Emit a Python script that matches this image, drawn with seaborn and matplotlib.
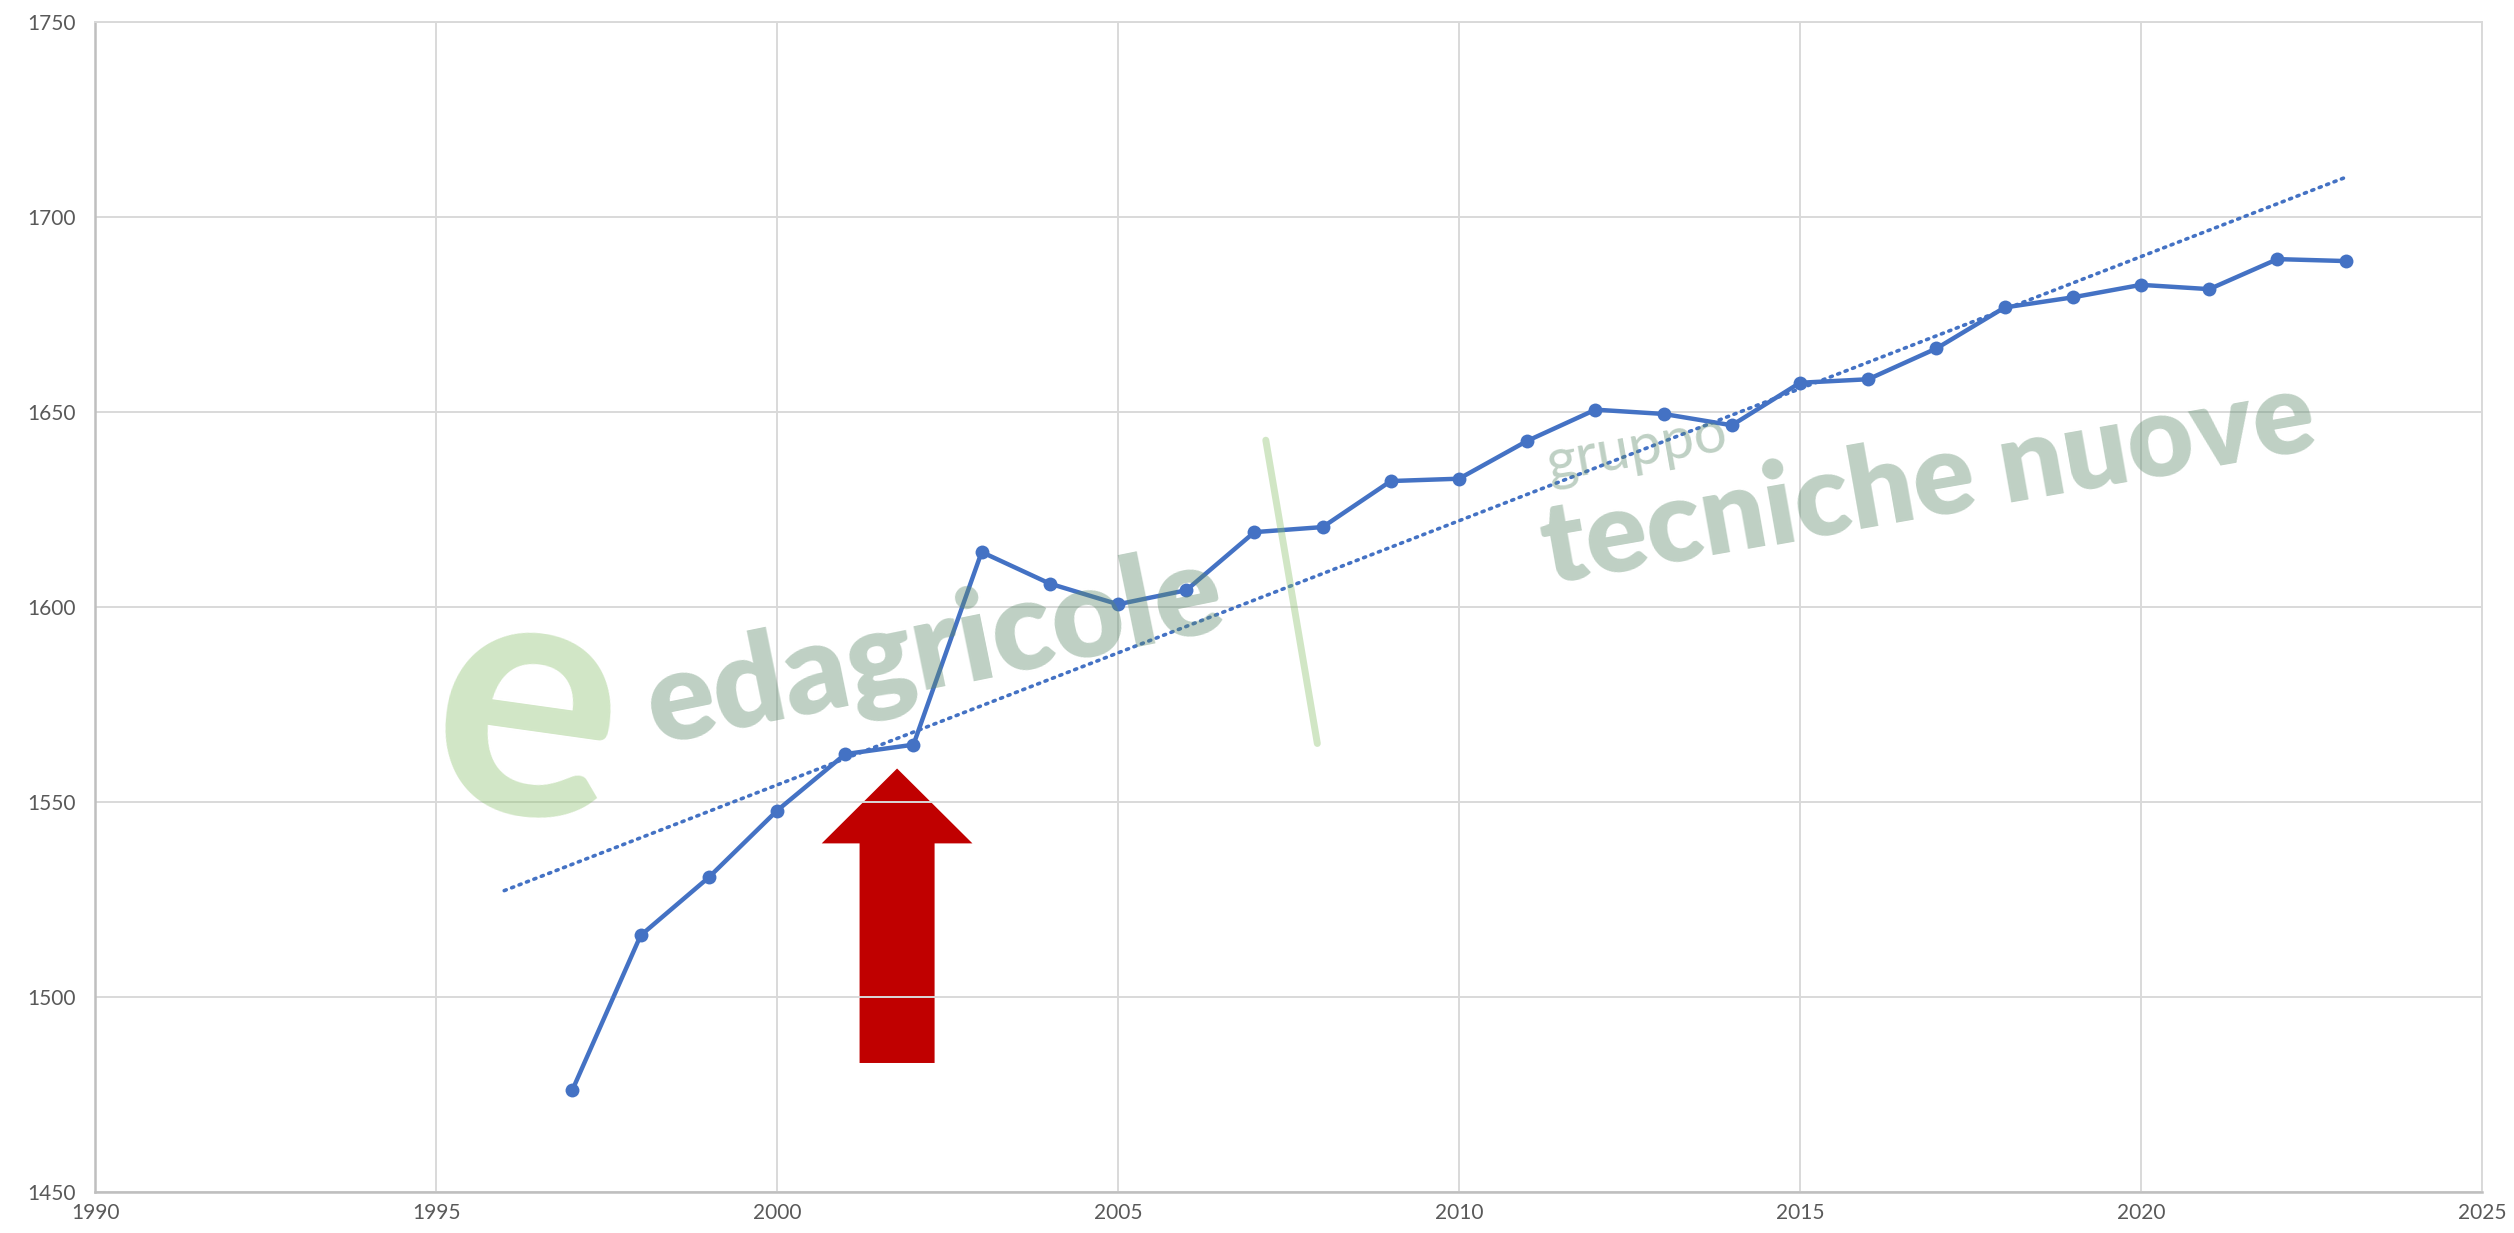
import numpy as np
import pandas as pd
import seaborn as sns
import matplotlib
matplotlib.use("Agg")
import matplotlib.pyplot as plt
from matplotlib.patches import FancyArrow
from matplotlib.lines import Line2D

# values
years = [1997, 1998, 1999, 2000, 2001, 2002, 2003, 2004, 2005, 2006,
         2007, 2008, 2009, 2010, 2011, 2012, 2013, 2014, 2015, 2016,
         2017, 2018, 2019, 2020, 2021, 2022, 2023]
values = [1476.1, 1515.7, 1530.6, 1547.7, 1562.2, 1564.6, 1614.0, 1605.9, 1600.6, 1604.2,
          1619.1, 1620.4, 1632.2, 1632.8, 1642.5, 1650.5, 1649.4, 1646.5, 1657.4, 1658.3,
          1666.2, 1676.7, 1679.3, 1682.5, 1681.4, 1689.1, 1688.6]
trend_span = [1996, 2023]
x_ticks = [1990, 1995, 2000, 2005, 2010, 2015, 2020, 2025]
y_ticks = [1450, 1500, 1550, 1600, 1650, 1700, 1750]

# red arrow annotation (x centre, tail, tip)
arrow_x = 2001.76
arrow_tail = 1483.0
arrow_tip = 1558.5

df = pd.DataFrame({"anno": years, "valore": values})

sns.set_theme(style="whitegrid")
plt.rcParams['font.family'] = ['Lato', 'DejaVu Sans']

blue = "#4472C4"
grid_col = "#D9D9D9"

fig = plt.figure(figsize=(25.14, 12.33), dpi=100)
ax = fig.add_axes([0.0378, 0.0335, 0.9495, 0.949])

# arrow sits under the gridlines like in the original
arr = FancyArrow(arrow_x, arrow_tail, 0, arrow_tip - arrow_tail, width=1.10,
                 head_width=2.21, head_length=19.2, length_includes_head=True,
                 color="#C00000", lw=0, zorder=0.3)
ax.add_patch(arr)

# linear trend line (dotted), as excel draws it
slope, icpt = np.polyfit(years, values, 1)
tx = np.array(trend_span)
ax.plot(tx, slope * tx + icpt, color=blue, lw=2.6, ls=(0, (0.6, 1.6)),
        dash_capstyle="round", zorder=2)

sns.lineplot(data=df, x="anno", y="valore", ax=ax, color=blue, lw=3.2,
             marker="o", markersize=10, markeredgewidth=0, zorder=3)

ax.set_xlim(1990, 2025)
ax.set_ylim(1450, 1750)
ax.set_xticks(x_ticks)
ax.set_yticks(y_ticks)
ax.set_xlabel("")
ax.set_ylabel("")
ax.grid(True, color=grid_col, lw=1.4)
ax.set_axisbelow(True)
for s in ["top", "right"]:
    ax.spines[s].set_color(grid_col)
    ax.spines[s].set_linewidth(1.4)
for s in ["left", "bottom"]:
    ax.spines[s].set_color("#BFBFBF")
    ax.spines[s].set_linewidth(1.8)
ax.tick_params(axis="both", length=0, labelsize=15, labelcolor="#595959")
ax.tick_params(axis="y", pad=14)
ax.tick_params(axis="x", pad=8)

# watermark
wm = "#5E8A6B"
fig.text(0.21, 0.42, "e", fontsize=250, fontweight="bold", color="#8DC26F",
         alpha=0.4, ha="center", va="center", rotation=-8, zorder=10)
fig.text(0.372, 0.472, "edagricole", fontsize=90, fontweight="heavy", color=wm,
         alpha=0.4, ha="center", va="center", rotation=11.5, zorder=10)
fig.add_artist(Line2D([0.5035, 0.524], [0.643, 0.397], color="#8DC26F",
                      alpha=0.4, lw=5, solid_capstyle="round", zorder=10))
fig.text(0.651, 0.636, "gruppo", fontsize=42, color=wm, alpha=0.4,
         ha="center", va="center", rotation=10, zorder=10)
fig.text(0.767, 0.608, "tecniche nuove", fontsize=82, fontweight="heavy",
         color=wm, alpha=0.4, ha="center", va="center", rotation=10, zorder=10)

fig.savefig("out.png", dpi=100)
